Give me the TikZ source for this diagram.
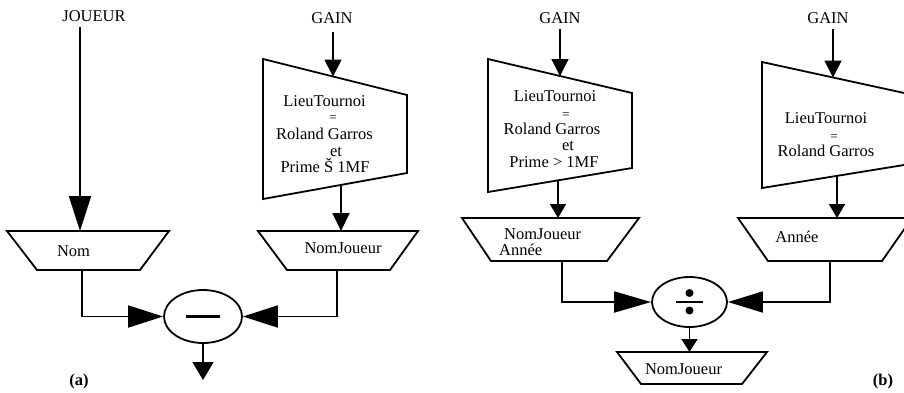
\documentclass[tikz,border=0pt]{standalone}
\usepackage{fontspec}
\setmainfont{Liberation Serif}
\usetikzlibrary{arrows.meta,shapes.geometric}

\tikzset{
  shapeline/.style={line width=1.8pt, line join=miter},
  conn/.style={line width=1.8pt},
  bigtip/.style={-{Triangle[length=35pt,width=22pt]}},
  midtip/.style={-{Triangle[length=17pt,width=17pt]}},
  smalltip/.style={-{Triangle[length=18pt,width=17pt]}},
  lbl/.style={anchor=base, inner sep=0pt, font=\fontsize{16.5}{16.5}\selectfont},
  lblw/.style={lbl, anchor=base west},
  eqsign/.style={anchor=base, inner sep=0pt, font=\fontsize{13}{13}\selectfont},
  opnode/.style={ellipse, draw, line width=1.8pt, inner sep=0pt}
}

\begin{document}
\begin{tikzpicture}[x=1pt, y=-1pt]
\useasboundingbox (0,0) rectangle (904,392);
\clip (0,0) rectangle (904,392);

% ---------------- (a) : difference ----------------
\node[lbl] (joueur) at (94,21) {JOUEUR};
\node[lbl] (gainA) at (332,23) {GAIN};

% selection on GAIN
\draw[shapeline] (263,59) -- (407,95) -- (407,173) -- (263,199) -- cycle;
\node[lbl] (a1) at (324.5,106.5) {LieuTournoi};
\node[eqsign] (a2) at (333,121.5) {=};
\node[lbl] (a3) at (324.5,139.5) {Roland Garros};
\node[lbl] (a4) at (336,156) {et};
\node[lbl] (a5) at (325,172.5) {Prime Š 1MF};

% projections
\draw[shapeline] (7,231) -- (169,231) -- (140,270) -- (37,270) -- cycle;
\node[lbl] (nomA) at (73.5,256) {Nom};
\draw[shapeline] (258,231) -- (418,231) -- (390,270) -- (287,270) -- cycle;
\node[lbl] (njA) at (343,253) {NomJoueur};

% difference operator
\node[opnode, minimum width=78pt, minimum height=53pt] (opA) at (203,316.5) {};
\draw[line width=2.6pt] ([xshift=-17pt]opA.center) -- ([xshift=17pt]opA.center);

\coordinate (joueurS) at (80,27);
\coordinate (nomIn) at (80,231);
\coordinate (nomOut) at (82,270);
\coordinate (gainAS) at (333,32);
\coordinate (selAIn) at (333,76.5);
\coordinate (selAOut) at (341,185);
\coordinate (njAIn) at (341,231);
\coordinate (njAOut) at (337,270);
\coordinate (aEnd) at (203,380);

\draw[conn, bigtip] (joueurS) -- (nomIn);
\draw[conn, midtip] (gainAS) -- (selAIn);
\draw[conn, smalltip] (selAOut) -- (njAIn);
\draw[conn, bigtip] (nomOut) |- (opA.west);
\draw[conn, bigtip] (njAOut) |- (opA.east);
\draw[conn, -{Triangle[length=18pt,width=21pt]}] (opA.south) -- (aEnd);

\node[lbl, font=\fontsize{16.5}{16.5}\selectfont\bfseries] (labA) at (79,385) {(a)};

% ---------------- (b) : division ----------------
\node[lbl] (gainB1) at (560,23) {GAIN};
\node[lbl] (gainB2) at (828,23) {GAIN};

% first selection
\draw[shapeline] (488,59) -- (632,93) -- (632,168) -- (488,192) -- cycle;
\node[lbl] (b1) at (555,101) {LieuTournoi};
\node[eqsign] (b2) at (566,118) {=};
\node[lbl] (b3) at (552,134) {Roland Garros};
\node[lbl] (b4) at (568,150.5) {et};
\node[lbl] (b5) at (554,167) {Prime > 1MF};

% second selection
\draw[shapeline] (762,62) -- (907,93.6) -- (907,164.5) -- (762,188) -- cycle;
\node[lbl] (c1) at (826,123) {LieuTournoi};
\node[eqsign] (c2) at (834,140) {=};
\node[lbl] (c3) at (826,156) {Roland Garros};

% projections
\draw[shapeline] (462,218) -- (639,218) -- (607,261) -- (491,261) -- cycle;
\node[lblw] (njB) at (504,239) {NomJoueur};
\node[lblw] (anB) at (499,255) {Année};
\draw[shapeline] (738,218) -- (912,218) -- (882,261) -- (768,261) -- cycle;
\node[lbl] (anC) at (797,242) {Année};

% division operator
\node[opnode, minimum width=75pt, minimum height=50pt] (opB) at (689.5,302) {};
\draw[line width=2pt] ([xshift=-13.5pt]opB.center) -- ([xshift=13.5pt]opB.center);
\fill ([yshift=-8.5pt]opB.center) circle (4pt);
\fill ([yshift=9pt]opB.center) circle (4pt);

% result projection
\draw[shapeline] (617,352) -- (767,352) -- (742,384) -- (641,384) -- cycle;
\node[lbl] (njRes) at (683.5,374) {NomJoueur};

\coordinate (gainB1S) at (560,29);
\coordinate (selB1In) at (560,76);
\coordinate (selB1Out) at (558,180.5);
\coordinate (njBIn) at (558,218);
\coordinate (njBOut) at (562,261);
\coordinate (gainB2S) at (833,29);
\coordinate (selB2In) at (833,77.5);
\coordinate (selB2Out) at (837,176);
\coordinate (anCIn) at (837,218);
\coordinate (anCOut) at (830,261);
\coordinate (resIn) at (689.5,352);

\draw[conn, midtip] (gainB1S) -- (selB1In);
\draw[conn, midtip] (gainB2S) -- (selB2In);
\draw[conn, -{Triangle[length=14pt,width=16pt]}] (selB1Out) -- (njBIn);
\draw[conn, -{Triangle[length=14pt,width=16pt]}] (selB2Out) -- (anCIn);
\draw[conn, -{Triangle[length=37pt,width=21pt]}] (njBOut) |- (opB.west);
\draw[conn, -{Triangle[length=35pt,width=21pt]}] (anCOut) |- (opB.east);
\draw[conn, -{Triangle[length=13pt,width=16pt]}] (opB.south) -- (resIn);

\node[lbl, font=\fontsize{16.5}{16.5}\selectfont\bfseries] (labB) at (883,385) {(b)};
\end{tikzpicture}
\end{document}
